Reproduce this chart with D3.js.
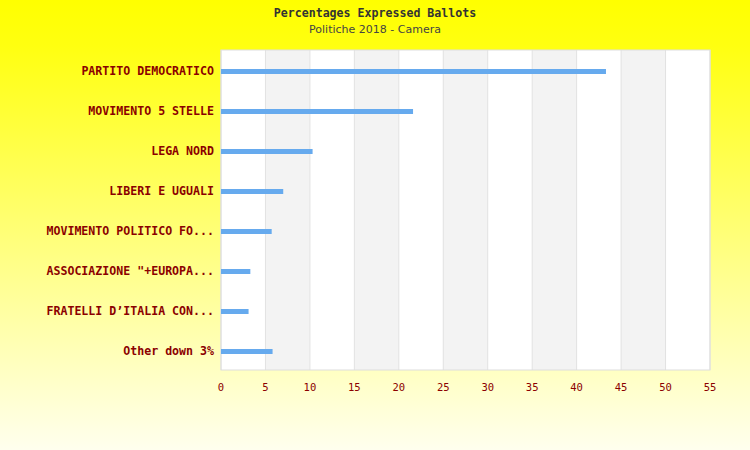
<!DOCTYPE html><html><head><meta charset="utf-8"><script src="https://cdn.jsdelivr.net/npm/d3@7"></script>
<style>body{margin:0}</style></head><body><svg id="c" width="750" height="450"></svg><script>
const categories=["PARTITO DEMOCRATICO","MOVIMENTO 5 STELLE","LEGA NORD","LIBERI E UGUALI","MOVIMENTO POLITICO FO...","ASSOCIAZIONE \"+EUROPA...","FRATELLI D’ITALIA CON...","Other down 3%"];
const values=[43.3,21.6,10.3,7.0,5.7,3.3,3.1,5.8];
const ticks=[0,5,10,15,20,25,30,35,40,45,50,55];
const svg=d3.select("#c");
const g0=svg.append("defs").append("linearGradient").attr("id","bg").attr("x1",0).attr("y1",0).attr("x2",0).attr("y2",1);
g0.append("stop").attr("offset","0").attr("stop-color","#ffff00");
g0.append("stop").attr("offset","0.1").attr("stop-color","#ffff10");
g0.append("stop").attr("offset","1").attr("stop-color","#ffffee");
svg.append("rect").attr("width",750).attr("height",450).attr("fill","url(#bg)");
const L=221,R=710,T=50,B=370;
const x=d3.scaleLinear().domain([0,55]).range([L,R]);
const y=d3.scaleBand().domain(categories).range([T,B]);
svg.append("rect").attr("x",L).attr("y",T).attr("width",R-L).attr("height",B-T).attr("fill","#fff");
for(let i=0;i<ticks.length-1;i++){if(i%2==1)svg.append("rect").attr("x",x(ticks[i])).attr("y",T).attr("width",x(ticks[i+1])-x(ticks[i])).attr("height",B-T).attr("fill","#f3f3f3");}
ticks.forEach(t=>svg.append("line").attr("x1",x(t)).attr("x2",x(t)).attr("y1",T).attr("y2",B).attr("stroke","#e2e2e2"));
svg.append("rect").attr("x",L).attr("y",T).attr("width",R-L).attr("height",B-T).attr("fill","none").attr("stroke","#ddd");
svg.selectAll(".b").data(values).enter().append("rect").attr("x",L).attr("y",(d,i)=>y(categories[i])+y.bandwidth()/2-1).attr("height",5).attr("width",d=>x(d)-L).attr("fill","#66aaee");
const f="'DejaVu Sans Mono','Liberation Mono',monospace";
svg.selectAll(".l").data(categories).enter().append("text").attr("x",214).attr("y",d=>y(d)+y.bandwidth()/2+5).attr("text-anchor","end").attr("font-family",f).attr("font-weight","bold").attr("font-size",11.6).attr("fill","#8b0000").text(d=>d);
ticks.forEach(t=>svg.append("text").attr("x",x(t)).attr("y",391).attr("text-anchor","middle").attr("font-family",f).attr("font-size",10.5).attr("fill","#8b0000").text(t));
svg.append("text").attr("x",375).attr("y",17).attr("text-anchor","middle").attr("font-family",f).attr("font-weight","bold").attr("font-size",11.6).attr("fill","#333").text("Percentages Expressed Ballots");
svg.append("text").attr("x",375).attr("y",33).attr("text-anchor","middle").attr("font-family","'DejaVu Sans',sans-serif").attr("font-size",11).attr("fill","#444").text("Politiche 2018 - Camera");
</script></body></html>
